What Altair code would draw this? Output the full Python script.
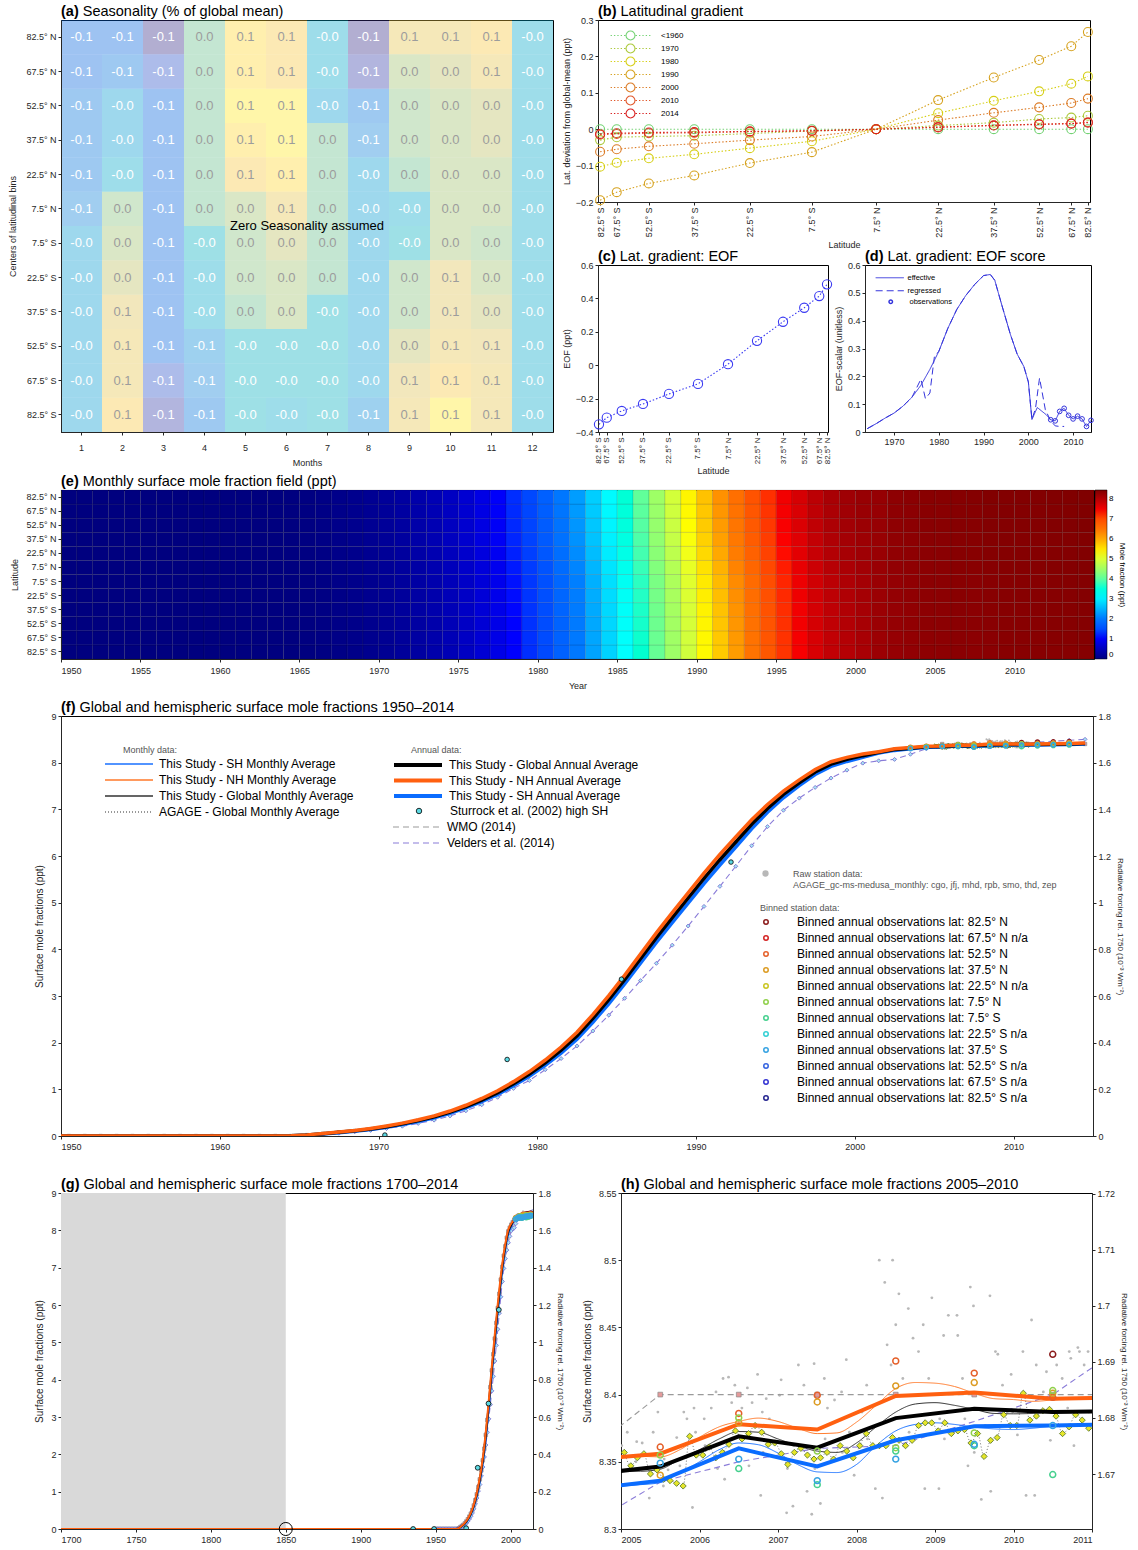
import math
import altair as alt
import pandas as pd

FONT = "Liberation Sans"
INK = "#262626"
TFS = 14.5  # panel title font size

# ---------------- shared latitude bins ----------------
lat_rows = ["82.5° N", "67.5° N", "52.5° N", "37.5° N", "22.5° N", "7.5° N",
            "7.5° S", "22.5° S", "37.5° S", "52.5° S", "67.5° S", "82.5° S"]
lat_deg = [-82.5, -67.5, -52.5, -37.5, -22.5, -7.5, 7.5, 22.5, 37.5, 52.5, 67.5, 82.5]
lat_labels_sn = ["82.5° S", "67.5° S", "52.5° S", "37.5° S", "22.5° S", "7.5° S",
                 "7.5° N", "22.5° N", "37.5° N", "52.5° N", "67.5° N", "82.5° N"]

# ---------------- (a) seasonality (rows N -> S, months 1..12) ----------------
months = list(range(1, 13))
seasonality = [
    [-0.08, -0.08, -0.11, 0.01, 0.08, 0.07, -0.03, -0.11, 0.06, 0.06, 0.07, -0.03],
    [-0.08, -0.07, -0.09, 0.01, 0.08, 0.07, -0.03, -0.10, 0.03, 0.04, 0.06, -0.03],
    [-0.07, -0.04, -0.08, 0.01, 0.09, 0.09, -0.04, -0.07, 0.02, 0.03, 0.04, -0.03],
    [-0.07, -0.04, -0.08, 0.01, 0.08, 0.09, 0.01, -0.06, 0.02, 0.03, 0.04, -0.03],
    [-0.07, -0.03, -0.08, 0.01, 0.07, 0.08, 0.01, -0.04, 0.01, 0.03, 0.03, -0.03],
    [-0.06, 0.02, -0.08, 0.01, 0.03, 0.06, 0.01, -0.04, -0.03, 0.03, 0.03, -0.03],
    [-0.04, 0.03, -0.08, -0.02, 0.02, 0.04, 0.01, -0.04, -0.02, 0.03, 0.02, -0.03],
    [-0.04, 0.04, -0.08, -0.03, 0.02, 0.03, 0.01, -0.04, 0.02, 0.055, 0.03, -0.03],
    [-0.04, 0.055, -0.08, -0.03, 0.01, 0.03, -0.02, -0.04, 0.02, 0.055, 0.04, -0.03],
    [-0.04, 0.06, -0.08, -0.055, -0.02, -0.02, -0.02, -0.04, 0.04, 0.06, 0.055, -0.03],
    [-0.04, 0.06, -0.09, -0.06, -0.02, -0.02, -0.02, -0.04, 0.055, 0.07, 0.06, -0.03],
    [-0.04, 0.07, -0.10, -0.07, -0.02, -0.03, -0.02, -0.055, 0.06, 0.09, 0.06, -0.03],
]
parula = ["#352a87", "#0f5cdd", "#1481d6", "#06a4ca", "#2eb7a4",
          "#87bf77", "#d1bb59", "#fec832", "#f9fb0e"]

# ---------------- (b) latitudinal gradient ----------------
grad_labels = ["<1960", "1970", "1980", "1990", "2000", "2010", "2014"]
grad_colors = ["#74d274", "#acc93c", "#d6cf16", "#d6a21f", "#dc7c27", "#e1572b", "#d81f1f"]
grad_vals = [
    [0.0, 0.0, 0.0, 0.0, 0.0, 0.0, 0.0, 0.0, 0.0, 0.0, 0.0, 0.0],
    [-0.030, -0.022, -0.020, -0.018, -0.012, -0.005, 0.0, 0.010, 0.018, 0.028, 0.032, 0.037],
    [-0.103, -0.092, -0.080, -0.069, -0.052, -0.033, 0.0, 0.044, 0.078, 0.104, 0.125, 0.145],
    [-0.195, -0.173, -0.149, -0.127, -0.093, -0.063, 0.0, 0.080, 0.142, 0.190, 0.228, 0.267],
    [-0.062, -0.055, -0.047, -0.040, -0.030, -0.020, 0.0, 0.025, 0.045, 0.060, 0.072, 0.084],
    [-0.015, -0.013, -0.011, -0.010, -0.007, -0.005, 0.0, 0.006, 0.011, 0.014, 0.016, 0.019],
    [-0.013, -0.011, -0.009, -0.008, -0.006, -0.004, 0.0, 0.005, 0.010, 0.013, 0.015, 0.018],
]

# ---------------- (c) EOF ----------------
eof = [-0.354, -0.314, -0.274, -0.232, -0.172, -0.112, 0.006, 0.146, 0.260, 0.344, 0.414, 0.484]

# ---------------- (d) EOF score ----------------
eff_years = [1964, 1966, 1968, 1970, 1972, 1974, 1976, 1978, 1980, 1982, 1984, 1986, 1988,
             1990, 1991.5, 1992.5, 1994, 1996, 1997.5, 1999, 2000, 2000.8, 2002, 2003, 2004,
             2005, 2006, 2007, 2008, 2009, 2010, 2011, 2012, 2013, 2014]
eff_vals = [0.012, 0.030, 0.050, 0.068, 0.093, 0.125, 0.168, 0.225, 0.290, 0.372, 0.440, 0.490, 0.530,
            0.562, 0.566, 0.545, 0.460, 0.350, 0.280, 0.235, 0.180, 0.045, 0.088, 0.075, 0.062,
            0.044, 0.040, 0.074, 0.085, 0.060, 0.047, 0.057, 0.047, 0.020, 0.042]
reg_years = [1964, 1966, 1968, 1970, 1972, 1974, 1976, 1977, 1978, 1979, 1980, 1982, 1984, 1986,
             1988, 1990, 1991.5, 1992.5, 1994, 1996, 1997.5, 1999, 2000, 2000.8, 2001.6, 2002.5,
             2003.8, 2005, 2006, 2007, 2008]
reg_vals = [0.012, 0.030, 0.050, 0.068, 0.093, 0.125, 0.190, 0.120, 0.140, 0.270, 0.290, 0.372,
            0.440, 0.490, 0.530, 0.562, 0.566, 0.545, 0.460, 0.350, 0.280, 0.235, 0.180, 0.045,
            0.085, 0.194, 0.080, 0.040, 0.022, 0.020, 0.020]
obs_years = [2005, 2006, 2007, 2008, 2009, 2010, 2011, 2012, 2013, 2014]
obs_vals = [0.044, 0.040, 0.074, 0.085, 0.060, 0.047, 0.057, 0.047, 0.020, 0.042]

# ---------------- annual means 1950-2014 (plotted at mid-year) ----------------
years = list(range(1950, 2015))
glob_ann = [0, 0, 0, 0, 0, 0, 0, 0, 0, 0,
            0, 0, 0, 0, 0.005, 0.02, 0.05, 0.08, 0.11, 0.15,
            0.20, 0.26, 0.33, 0.41, 0.51, 0.63, 0.77, 0.93, 1.12, 1.33,
            1.57, 1.84, 2.15, 2.52, 2.92, 3.35, 3.80, 4.25, 4.68, 5.10,
            5.52, 5.92, 6.30, 6.68, 7.02, 7.32, 7.57, 7.80, 7.97, 8.07,
            8.15, 8.22, 8.28, 8.31, 8.34, 8.3465, 8.369, 8.3605, 8.3825, 8.3895,
            8.387, 8.388, 8.393, 8.402, 8.412]
nh_ann = [0, 0, 0, 0, 0, 0, 0, 0, 0, 0,
          0, 0, 0, 0, 0.007, 0.024, 0.056, 0.088, 0.12, 0.162,
          0.214, 0.276, 0.349, 0.432, 0.535, 0.659, 0.804, 0.969, 1.165, 1.381,
          1.628, 1.906, 2.224, 2.602, 3.008, 3.443, 3.898, 4.352, 4.786, 5.21,
          5.632, 6.033, 6.41, 6.778, 7.104, 7.392, 7.632, 7.855, 8.02, 8.114,
          8.184, 8.232, 8.297, 8.324, 8.351, 8.356, 8.378, 8.374, 8.399, 8.4015,
          8.397, 8.398, 8.404, 8.413, 8.423]
sh_ann = [0, 0, 0, 0, 0, 0, 0, 0, 0, 0,
          0, 0, 0, 0, 0.003, 0.016, 0.044, 0.072, 0.10, 0.138,
          0.186, 0.244, 0.311, 0.388, 0.485, 0.601, 0.736, 0.891, 1.075, 1.279,
          1.512, 1.774, 2.076, 2.438, 2.832, 3.257, 3.702, 4.148, 4.574, 4.99,
          5.408, 5.807, 6.19, 6.582, 6.936, 7.248, 7.508, 7.745, 7.92, 8.026,
          8.116, 8.208, 8.263, 8.296, 8.329, 8.336, 8.360, 8.3465, 8.366, 8.3765,
          8.377, 8.378, 8.382, 8.391, 8.401]
velders = [0, 0, 0, 0, 0, 0, 0, 0, 0, 0,
           0, 0, 0, 0, 0, 0.02, 0.04, 0.06, 0.09, 0.12,
           0.16, 0.21, 0.27, 0.34, 0.43, 0.54, 0.67, 0.83, 1.02, 1.19,
           1.42, 1.66, 1.93, 2.25, 2.59, 2.95, 3.33, 3.70, 4.09, 4.50,
           4.92, 5.35, 5.78, 6.22, 6.63, 6.98, 7.24, 7.47, 7.67, 7.84,
           7.99, 8.04, 8.07, 8.18, 8.30, 8.335, 8.350, 8.360, 8.362, 8.380,
           8.400, 8.44, 8.46, 8.48, 8.50]
wmo = [0, 0, 0, 0, 0, 0, 0, 0, 0, 0,
       0, 0, 0, 0, 0, 0.02, 0.05, 0.08, 0.11, 0.15,
       0.20, 0.26, 0.33, 0.41, 0.51, 0.63, 0.77, 0.93, 1.12, 1.33,
       1.57, 1.84, 2.15, 2.52, 2.92, 3.35, 3.80, 4.25, 4.68, 5.10,
       5.52, 5.92, 6.30, 6.68, 7.02, 7.32, 7.57, 7.80, 7.97, 8.07,
       8.15, 8.22, 8.28, 8.31, 8.354, 8.40, 8.40, 8.40, 8.40, 8.40,
       8.40, 8.40, 8.40, 8.40, 8.40]
early_year = 1700  # all series are zero before industrial production

# ---------------- monthly means (quarterly readings) 2005-2011 ----------------
q_x = [2005.0, 2005.25, 2005.5, 2005.75, 2006.0, 2006.25, 2006.5, 2006.75, 2007.0, 2007.25,
       2007.5, 2007.75, 2008.0, 2008.25, 2008.5, 2008.75, 2009.0, 2009.25, 2009.5, 2009.75,
       2010.0, 2010.25, 2010.5, 2010.75, 2011.0]
nh_q = [8.354, 8.354, 8.3537, 8.359, 8.3683, 8.376, 8.380, 8.3825, 8.380, 8.375,
        8.371, 8.3715, 8.3795, 8.392, 8.4045, 8.409, 8.4085, 8.406, 8.401, 8.397,
        8.3963, 8.395, 8.396, 8.397, 8.397]
gl_q = [8.343, 8.343, 8.3445, 8.352, 8.359, 8.367, 8.3725, 8.372, 8.367, 8.362,
        8.358, 8.357, 8.364, 8.376, 8.387, 8.393, 8.394, 8.392, 8.389, 8.386,
        8.3857, 8.386, 8.387, 8.387, 8.387]
sh_q = [8.332, 8.333, 8.3345, 8.342, 8.350, 8.359, 8.364, 8.3627, 8.3565, 8.348,
        8.3425, 8.342, 8.348, 8.362, 8.373, 8.3778, 8.379, 8.3778, 8.3758, 8.3745,
        8.374, 8.375, 8.3765, 8.377, 8.378]
agage = [8.357, 8.347, 8.353, 8.356, 8.341, 8.344, 8.337, 8.336, 8.334, 8.332, 8.369, 8.355,
         8.355, 8.361, 8.353, 8.357, 8.363, 8.373, 8.367, 8.371, 8.377, 8.372, 8.363, 8.364,
         8.356, 8.348, 8.357, 8.360, 8.355, 8.352, 8.353, 8.357, 8.352, 8.362, 8.358, 8.353,
         8.362, 8.371, 8.362, 8.362, 8.362, 8.368, 8.366, 8.362, 8.366, 8.377, 8.379, 8.379,
         8.373, 8.379, 8.371, 8.373, 8.374, 8.364, 8.371, 8.354, 8.366, 8.368, 8.385, 8.377,
         8.377, 8.401, 8.381, 8.384, 8.388, 8.389, 8.384, 8.371, 8.376, 8.385, 8.381, 8.375]
agage_start = 2005

# ---------------- Sturrock et al. (2002) ----------------
sturrock_x = [1935, 1949, 1970.4, 1978.1, 1985.3, 1992.2]
sturrock_y = [0.0, 0.0, 0.02, 1.64, 3.36, 5.87]
preind_x = [1850]
preind_y = [0.0]
shade_window = [1700, 1850]

# ---------------- raw station data ----------------
raw_x = [2005.01, 2005.08, 2005.19, 2005.27, 2005.36, 2005.41, 2005.47, 2005.54, 2005.60, 2005.71,
         2005.80, 2005.84, 2005.91, 2005.95, 2005.93,
         2006.06, 2006.15, 2006.21, 2006.30, 2006.37, 2006.41, 2006.45, 2006.23, 2006.32,
         2006.54, 2006.61, 2006.67, 2006.74, 2006.80, 2006.85, 2006.78, 2006.89,
         2007.02, 2007.04, 2007.11, 2007.19, 2007.26, 2007.33, 2007.37, 2007.43, 2007.46, 2007.12,
         2007.54, 2007.59, 2007.63, 2007.72, 2007.81, 2007.87, 2007.91, 2007.97,
         2008.07, 2008.13, 2008.20, 2008.29, 2008.36, 2008.39, 2008.46, 2008.44, 2008.50, 2008.54,
         2008.24, 2008.33,
         2008.59, 2008.66, 2008.72, 2008.79, 2008.81, 2008.85, 2008.92, 2008.96, 2008.87,
         2009.05, 2009.11, 2009.17, 2009.28, 2009.29, 2009.35, 2009.42, 2009.45, 2009.49, 2009.50,
         2009.59, 2009.70, 2009.71, 2009.77, 2009.80, 2009.86, 2009.92, 2009.97,
         2010.05, 2010.12, 2010.16, 2010.23, 2010.27, 2010.29, 2010.38, 2010.42, 2010.47,
         2010.55, 2010.62, 2010.71, 2010.73, 2010.82, 2010.84, 2010.90, 2010.95, 2010.77,
         2005.20, 2005.55, 2005.75, 2006.07, 2006.40, 2006.81, 2007.20, 2007.60, 2007.82, 2008.14,
         2008.67, 2009.06, 2009.38, 2009.64, 2009.99, 2010.34, 2010.69, 2010.96, 2009.12, 2008.60,
         2007.47, 2006.63]
raw_y = [8.362, 8.372, 8.350, 8.364, 8.323, 8.372, 8.387, 8.332, 8.344, 8.368,
         8.387, 8.382, 8.316, 8.372, 8.390,
         8.382, 8.390, 8.402, 8.412, 8.413, 8.394, 8.407, 8.345, 8.337,
         8.390, 8.405, 8.394, 8.415, 8.387, 8.397, 8.325, 8.382,
         8.3995, 8.411, 8.312, 8.317, 8.422, 8.407, 8.328, 8.311, 8.423, 8.345,
         8.319, 8.412, 8.390, 8.396, 8.402, 8.426, 8.372, 8.340,
         8.387, 8.407, 8.375, 8.500, 8.4835, 8.437, 8.500, 8.422, 8.452, 8.475,
         8.330, 8.323,
         8.412, 8.464, 8.442, 8.432, 8.400, 8.452, 8.412, 8.472, 8.330,
         8.330, 8.444, 8.459, 8.459, 8.444, 8.412, 8.347, 8.480, 8.466, 8.357,
         8.322, 8.4735, 8.328, 8.432, 8.430, 8.407, 8.387, 8.415,
         8.370, 8.432, 8.325, 8.4555, 8.325, 8.422, 8.402, 8.417, 8.366,
         8.422, 8.412, 8.432, 8.427, 8.435, 8.432, 8.422, 8.432, 8.362,
         8.365, 8.352, 8.347, 8.362, 8.367, 8.357, 8.362, 8.367, 8.357, 8.367,
         8.372, 8.382, 8.382, 8.377, 8.387, 8.387, 8.390, 8.387, 8.367, 8.362,
         8.345, 8.347]

# ---------------- binned annual observations ----------------
bin_years = [2003.5, 2004.5, 2005.5, 2006.5, 2007.5, 2008.5, 2009.5, 2010.5, 2011.5, 2012.5, 2013.5]
bin_obs = {
    "82.5° N": [None, None, None, None, None, None, None, 8.430, 8.440, 8.445, 8.450],
    "52.5° N": [8.33, 8.35, 8.361, 8.386, 8.3995, 8.425, 8.416, 8.398, 8.41, 8.42, 8.43],
    "37.5° N": [8.32, 8.345, 8.340, 8.379, 8.3945, 8.4065, 8.409, 8.401, 8.405, 8.415, 8.425],
    "7.5° N": [8.31, 8.34, 8.355, 8.3827, 8.358, 8.3605, 8.3715, 8.403, 8.39, 8.395, 8.405],
    "7.5° S": [None, None, None, 8.345, 8.333, 8.358, 8.362, 8.3405, 8.36, 8.37, 8.38],
    "37.5° S": [8.30, 8.325, 8.349, 8.352, 8.336, 8.352, 8.363, 8.377, 8.38, 8.385, 8.395],
}
bin_order = ["82.5° N", "67.5° N", "52.5° N", "37.5° N", "22.5° N", "7.5° N",
             "7.5° S", "22.5° S", "37.5° S", "52.5° S", "67.5° S", "82.5° S"]
bin_colors = ["#8b1a1a", "#d42222", "#e5602a", "#dc9b22", "#c9c520", "#8fd04a",
              "#45d08e", "#32d0d4", "#35a2e2", "#3462e0", "#3434d2", "#23238f"]

jet = ["#00007f", "#0000ff", "#007fff", "#00ffff", "#7fff7f", "#ffff00", "#ff7f00", "#ff0000", "#7f0000"]

LINE_SYM = "M-4.8,0H4.8"    # 48 px long horizontal legend stroke at symbolSize 100
LINE_SYM_D = "M-4.7,0H4.7"  # 28 px long at symbolSize 36
# legend glyph for panel (b): open circle with a dotted line through it
_dots = []
_p = 1.15
while _p + 0.3 <= 4.5:
    _dots.append(f"M{_p:.2f},0H{_p + 0.3:.2f}M{-_p:.2f},0H{-_p - 0.3:.2f}")
    _p += 0.75
CIRCLE_DOTLINE = "M-1,0A1,1,0,1,1,1,0A1,1,0,1,1,-1,0Z" + "".join(_dots)

# bold glyph advance widths (per 1000 em) of the Arial-metric font, for placing the panel titles
BOLD_W = {"(": 333, ")": 333, "a": 556, "b": 611, "c": 556, "d": 611, "e": 556, "f": 333, "g": 611, "h": 611}


def title_layers(tag, rest):
    w = sum(BOLD_W[ch] for ch in tag) / 1000.0 * TFS + 0.278 * TFS
    t1 = alt.Chart(pd.DataFrame({"t": [tag]})).mark_text(
        font=FONT, fontSize=TFS, fontWeight="bold", align="left", baseline="alphabetic", color="black"
    ).encode(text="t:N", x=alt.value(0), y=alt.value(-4))
    t2 = alt.Chart(pd.DataFrame({"t": [rest]})).mark_text(
        font=FONT, fontSize=TFS, fontWeight="normal", align="left", baseline="alphabetic", color="black"
    ).encode(text="t:N", x=alt.value(w), y=alt.value(-4))
    return [t1, t2]


# ======================= panel (a) =======================
seas_df = pd.DataFrame([
    {"lat": lat_rows[i], "month": months[j], "v": seasonality[i][j], "lbl": f"{seasonality[i][j]:.1f}"}
    for i in range(12) for j in range(12)
])
xa = alt.X("month:O", scale=alt.Scale(paddingInner=0, paddingOuter=0),
           axis=alt.Axis(title="Months", labelAngle=0, labelPadding=8, titlePadding=6))
ya = alt.Y("lat:O", sort=lat_rows, scale=alt.Scale(paddingInner=0, paddingOuter=0),
           axis=alt.Axis(title="Centers of latitudinal bins", titlePadding=8))
cells = alt.Chart(seas_df).mark_rect(opacity=0.38).encode(
    x=xa, y=ya, color=alt.Color("v:Q", scale=alt.Scale(domain=[-0.11, 0.10], range=parula), legend=None))
cell_txt = alt.Chart(seas_df).mark_text(fontSize=13, font=FONT).encode(
    x=xa, y=ya, text="lbl:N",
    color=alt.condition(alt.datum.v < 0, alt.value("white"), alt.value("#9c9c9c")))
zero_note = alt.Chart(pd.DataFrame({"t": ["Zero Seasonality assumed"]})).mark_text(
    fontSize=13, font=FONT, color="black").encode(text="t:N", x=alt.value(246), y=alt.value(206))
panel_a = alt.layer(cells, cell_txt, zero_note, *title_layers("(a)", "Seasonality (% of global mean)")).properties(
    width=492, height=412)

# ======================= panels (b), (c) =======================
sin_ticks = [math.sin(math.radians(l)) for l in lat_deg]
lat_expr = "format(abs(asin(datum.value))*180/PI, '.1f') + (datum.value < 0 ? '° S' : '° N')"


def lat_x(fs=9):
    return alt.X("s:Q", scale=alt.Scale(domain=[-1, 1], nice=False, zero=False),
                 axis=alt.Axis(values=sin_ticks, labelExpr=lat_expr, labelAngle=270, title="Latitude",
                               labelFontSize=fs, titleFontSize=9, titlePadding=3, labelPadding=2,
                               labelOverlap=False))


grad_df = pd.DataFrame([{"yr": grad_labels[k], "lat": lat_deg[i], "dev": grad_vals[k][i]}
                        for k in range(len(grad_labels)) for i in range(12)])
yb = alt.Y("dev:Q", scale=alt.Scale(domain=[-0.2, 0.3], nice=False, zero=False),
           axis=alt.Axis(values=[-0.2, -0.1, 0, 0.1, 0.2, 0.3], format=".1~f",
                         title="Lat. deviation from global-mean (ppt)", titleFontSize=9, titlePadding=4))
b_leg = alt.Legend(orient="none", legendX=27, legendY=10, title=None, symbolType=CIRCLE_DOTLINE,
                   symbolSize=80, labelFontSize=8, rowPadding=-2.6, symbolStrokeWidth=1.1,
                   labelOffset=25, symbolFillColor="transparent")
b_base = alt.Chart(grad_df).transform_calculate(s="sin(datum.lat*PI/180)")
b_pts = b_base.mark_point(filled=False, size=80, strokeWidth=1.1, opacity=1).encode(
    x=lat_x(), y=yb,
    color=alt.Color("yr:N", scale=alt.Scale(domain=grad_labels, range=grad_colors), legend=b_leg))
b_lines = b_base.mark_line(strokeDash=[1.5, 2], strokeWidth=1.1).encode(
    x=lat_x(), y=yb,
    color=alt.Color("yr:N", scale=alt.Scale(domain=grad_labels, range=grad_colors), legend=b_leg))
panel_b = alt.layer(b_pts, b_lines, *title_layers("(b)", "Latitudinal gradient")).properties(width=492, height=182)

eof_df = pd.DataFrame({"lat": lat_deg, "eof": eof})
yc = alt.Y("eof:Q", scale=alt.Scale(domain=[-0.4, 0.6], nice=False, zero=False),
           axis=alt.Axis(values=[-0.4, -0.2, 0, 0.2, 0.4, 0.6], format=".1~f", title="EOF (ppt)",
                         titleFontSize=9, titlePadding=4))
c_base = alt.Chart(eof_df).transform_calculate(s="sin(datum.lat*PI/180)")
c_line = c_base.mark_line(strokeDash=[1.5, 2], strokeWidth=1.1, color="#3a3af2").encode(x=lat_x(8), y=yc)
c_pts = c_base.mark_point(filled=False, size=85, strokeWidth=1.1, color="#3a3af2", opacity=1).encode(x=lat_x(8), y=yc)
panel_c = alt.layer(c_line, c_pts, *title_layers("(c)", "Lat. gradient: EOF")).properties(width=230, height=167)

# ======================= panel (d) =======================
d_lines_df = pd.concat([
    pd.DataFrame({"x": eff_years, "y": eff_vals, "kind": "effective"}),
    pd.DataFrame({"x": reg_years, "y": reg_vals, "kind": "regressed"}),
])
obs_df = pd.DataFrame({"x": obs_years, "y": obs_vals, "kind": "observations"})
xd = alt.X("x:Q", scale=alt.Scale(domain=[1963.5, 2014], nice=False, zero=False),
           axis=alt.Axis(values=[1970, 1980, 1990, 2000, 2010], format="d", title=None))
yd = alt.Y("y:Q", scale=alt.Scale(domain=[0, 0.6], nice=False),
           axis=alt.Axis(values=[0, 0.1, 0.2, 0.3, 0.4, 0.5, 0.6], format=".1~f",
                         title="EOF-scalar (unitless)", titleFontSize=9, titlePadding=4))
d_leg = alt.Legend(orient="none", legendX=21, legendY=9, title=None, symbolType=LINE_SYM_D, symbolSize=36,
                   labelFontSize=7.5, rowPadding=4, labelOffset=14, symbolStrokeWidth=1)
d_lines = alt.Chart(d_lines_df).mark_line(strokeWidth=1).encode(
    x=xd, y=yd,
    color=alt.Color("kind:N", scale=alt.Scale(domain=["effective", "regressed"], range=["#3434dc", "#3434dc"]), legend=d_leg),
    strokeDash=alt.StrokeDash("kind:N", scale=alt.Scale(domain=["effective", "regressed"], range=[[1, 0], [7, 4]]), legend=d_leg))
d_obs = alt.Chart(obs_df).mark_point(filled=False, size=22, strokeWidth=1, opacity=1).encode(
    x=xd, y=yd,
    color=alt.Color("kind:N", scale=alt.Scale(domain=["observations"], range=["#3434dc"]),
                    legend=alt.Legend(orient="none", legendX=22, legendY=33, title=None, symbolType="circle",
                                      symbolSize=12, labelFontSize=7.5, labelOffset=15)))
panel_d = alt.layer(d_lines, d_obs, *title_layers("(d)", "Lat. gradient: EOF score")).resolve_scale(
    color="independent", strokeDash="independent").properties(width=226, height=167)

# ======================= panel (e) =======================
field_rows = []
for yi, yr in enumerate(years):
    for li, lab in enumerate(lat_labels_sn):
        val = glob_ann[yi] + eof[li] * (nh_ann[yi] - glob_ann[yi]) / 0.2
        field_rows.append({"x": yr, "x2": yr + 1, "lat": lab, "v": val})
field_df = pd.DataFrame(field_rows)
e_rect = alt.Chart(field_df).mark_rect(stroke="black", strokeWidth=0.4, strokeOpacity=0.3).encode(
    x=alt.X("x:Q", scale=alt.Scale(domain=[1950, 2015], nice=False, zero=False),
            axis=alt.Axis(values=list(range(1950, 2015, 5)), format="d", title="Year", titlePadding=6, labelPadding=4)),
    x2="x2:Q",
    y=alt.Y("lat:O", sort=lat_rows, scale=alt.Scale(paddingInner=0, paddingOuter=0),
            axis=alt.Axis(title="Latitude", titlePadding=6)),
    color=alt.Color("v:Q", scale=alt.Scale(domain=[0, 8.45], range=jet),
                    legend=alt.Legend(orient="right", offset=1, gradientLength=169, gradientThickness=12,
                                      title="Mole fraction (ppt)", titleOrient="right", titleFontSize=8,
                                      titleFontWeight="normal", labelFontSize=8, values=list(range(9)),
                                      gradientStrokeColor="black", gradientStrokeWidth=0.5, direction="vertical")),
)
panel_e = alt.layer(e_rect, *title_layers("(e)", "Monthly surface mole fraction field (ppt)")).properties(
    width=1033, height=169)

# ======================= time-series data tables =======================
ann_names = ["This Study - Global Annual Average", "This Study - NH Annual Average", "This Study - SH Annual Average"]
ann_colors = ["#000000", "#ff6010", "#0a6cff"]
ann_rows = []
for name, vals in [(ann_names[2], sh_ann), (ann_names[0], glob_ann), (ann_names[1], nh_ann)]:
    ann_rows.append({"x": early_year, "y": 0.0, "name": name})
    for yr, v in zip(years, vals):
        ann_rows.append({"x": yr + 0.5, "y": v, "name": name})
ann_df = pd.DataFrame(ann_rows)

mon_names = ["This Study - SH Monthly Average", "This Study - NH Monthly Average",
             "This Study - Global Monthly Average", "AGAGE - Global Monthly Average"]
mon_colors = ["#1a72ff", "#ff7a2a", "#333333", "#777777"]
mon_rows = []
for i, v in enumerate(agage):
    mon_rows.append({"x": agage_start + (i + 0.5) / 12, "y": v, "name": mon_names[3]})
for name, vals in [(mon_names[0], sh_q), (mon_names[2], gl_q), (mon_names[1], nh_q)]:
    for xx, v in zip(q_x, vals):
        mon_rows.append({"x": xx, "y": v, "name": name})
mon_df = pd.DataFrame(mon_rows)
agage_df = pd.DataFrame({"x": [agage_start + (i + 0.5) / 12 for i in range(len(agage))], "y": agage})

ref_names = ["WMO (2014)", "Velders et al. (2014)"]
ref_rows = []
for name, vals in [(ref_names[0], wmo), (ref_names[1], velders)]:
    ref_rows.append({"x": early_year, "y": 0.0, "name": name})
    for yr, v in zip(years, vals):
        ref_rows.append({"x": yr + 0.5, "y": v, "name": name})
ref_df = pd.DataFrame(ref_rows)
wmo_df = pd.DataFrame({"x": [y + 0.5 for y in years], "y": wmo})
vel_df = pd.DataFrame({"x": [y + 0.5 for y in years], "y": velders})

st_df = pd.DataFrame({"x": sturrock_x, "y": sturrock_y, "name": "Sturrock et al. (2002) high SH"})
raw_df = pd.DataFrame({"x": raw_x, "y": raw_y, "name": "Raw station data:"})

bin_names = []
for lab in bin_order:
    bin_names.append(f"Binned annual observations lat: {lab}" + ("" if lab in bin_obs else " n/a"))
bin_rows = []
for lab, vals in bin_obs.items():
    nm = f"Binned annual observations lat: {lab}"
    for xx, v in zip(bin_years, vals):
        if v is not None:
            bin_rows.append({"x": xx, "y": v, "name": nm})
bin_df = pd.DataFrame(bin_rows)

shade_df = pd.DataFrame({"x": [shade_window[0]], "x2": [shade_window[1]], "y": [0.0], "y2": [9.0]})
pre_df = pd.DataFrame({"x": preind_x, "y": preind_y})


def L(**kw):
    base = dict(orient="none", labelFontSize=12, labelFont=FONT, titleFontSize=9, titleFontWeight="normal",
                titleColor="#555555", titleFont=FONT, labelLimit=700, rowPadding=4, titlePadding=3,
                labelColor="black")
    base.update(kw)
    return alt.Legend(**base)


def ts_panel(xdom, ydom, rdom, w, h, tag, ttl, xvals, yvals, rvals, yfmt, rfmt, legends=False, thick=3.5,
             thin=1.0, mk=1.0, vel_marks=True, shade=False, preind=False):
    sx = alt.Scale(domain=xdom, nice=False, zero=False)
    sy = alt.Scale(domain=ydom, nice=False, zero=False)

    def X(f="x"):
        return alt.X(f"{f}:Q", scale=sx, axis=alt.Axis(values=xvals, format="d", title=None, labelPadding=3))

    def Y(f="y"):
        return alt.Y(f"{f}:Q", scale=sy, axis=alt.Axis(values=yvals, format=yfmt, title="Surface mole fractions (ppt)",
                                                       titleFontSize=10, titlePadding=6))

    layers = []
    if shade:
        layers.append(alt.Chart(shade_df).mark_rect(color="#d9d9d9", clip=True).encode(
            x=X(), x2="x2:Q", y=Y(), y2="y2:Q"))
    layers.append(alt.Chart(raw_df).mark_circle(size=5 * mk, opacity=1, clip=True).encode(
        x=X(), y=Y(),
        color=alt.Color("name:N", scale=alt.Scale(domain=["Raw station data:"], range=["#b8b8b8"]),
                        legend=L(title=None, legendX=700, legendY=153, symbolSize=40, labelFontSize=9,
                                 labelColor="#555555", labelOffset=23,
                                 labelExpr="[datum.label, 'AGAGE_gc-ms-medusa_monthly: cgo, jfj, mhd, rpb, smo, thd, zep']")
                        if legends else None)))
    layers.append(alt.Chart(ref_df).mark_line(strokeWidth=1.1, strokeDash=[6, 4], clip=True).encode(
        x=X(), y=Y(),
        color=alt.Color("name:N", scale=alt.Scale(domain=ref_names, range=["#9a9a9a", "#8a7cd8"]),
                        legend=L(title=None, legendX=350, legendY=105, symbolType=LINE_SYM, symbolSize=100,
                                 labelOffset=24, symbolStrokeWidth=1.2, symbolDash=[6, 4]) if legends else None)))
    layers.append(alt.Chart(wmo_df).mark_point(shape="square", filled=True, size=14 * mk, fill="#e59a9a",
                                               stroke="#8a8a8a", strokeWidth=0.7, opacity=1, clip=True).encode(x=X(), y=Y()))
    if vel_marks:
        layers.append(alt.Chart(vel_df).mark_point(shape="diamond", filled=True, size=20 * mk, fill="#a6e4f2",
                                                   stroke="#7468d0", strokeWidth=0.8, opacity=1, clip=True).encode(x=X(), y=Y()))
    mon_leg = L(title="Monthly data:", legendX=62, legendY=30, symbolType=LINE_SYM, symbolSize=100,
                labelOffset=24, symbolStrokeWidth=1.5) if legends else None
    layers.append(alt.Chart(mon_df).mark_line(strokeWidth=thin, interpolate="monotone", clip=True).encode(
        x=X(), y=Y(),
        color=alt.Color("name:N", scale=alt.Scale(domain=mon_names, range=mon_colors), legend=mon_leg),
        strokeDash=alt.StrokeDash("name:N", scale=alt.Scale(domain=mon_names, range=[[1, 0], [1, 0], [1, 0], [1, 2]]),
                                  legend=mon_leg)))
    layers.append(alt.Chart(agage_df).mark_point(shape="diamond", filled=True, size=24 * mk, fill="#e6e62a",
                                                 stroke="#4f6e24", strokeWidth=0.8, opacity=1, clip=True).encode(x=X(), y=Y()))
    layers.append(alt.Chart(ann_df).mark_line(strokeWidth=thick, clip=True).encode(
        x=X(), y=Y(),
        color=alt.Color("name:N", scale=alt.Scale(domain=ann_names, range=ann_colors),
                        legend=L(title="Annual data:", legendX=350, legendY=30, symbolType=LINE_SYM,
                                 symbolSize=100, labelOffset=24, rowPadding=-0.5, symbolStrokeWidth=4) if legends else None)))
    layers.append(alt.Chart(st_df).mark_point(shape="circle", filled=True, size=26 * mk, stroke="black",
                                              strokeWidth=0.8, opacity=1, clip=True).encode(
        x=X(), y=Y(),
        color=alt.Color("name:N", scale=alt.Scale(domain=["Sturrock et al. (2002) high SH"], range=["#5cd9e3"]),
                        legend=L(title=None, legendX=352, legendY=89, symbolType="circle", symbolSize=30,
                                 labelOffset=25, symbolStrokeColor="black", symbolStrokeWidth=0.8) if legends else None)))
    layers.append(alt.Chart(bin_df).mark_point(shape="circle", filled=False, size=22 * mk, strokeWidth=1.5,
                                               opacity=1, clip=True).encode(
        x=X(), y=Y(),
        color=alt.Color("name:N", scale=alt.Scale(domain=bin_names, range=bin_colors),
                        legend=L(title="Binned station data:", legendX=699, legendY=188, symbolType="circle",
                                 symbolSize=20, labelOffset=25, symbolStrokeWidth=1.5) if legends else None)))
    if preind:
        layers.append(alt.Chart(pre_df).mark_point(shape="circle", filled=False, size=170, color="black",
                                                   strokeWidth=1, opacity=1).encode(x=X(), y=Y()))
    layers.extend(title_layers(tag, ttl))
    inner = alt.layer(*layers).resolve_scale(color="independent", strokeDash="independent")
    r_df = pd.DataFrame({"x": [xdom[0], xdom[1]], "r": rdom})
    right = alt.Chart(r_df).mark_point(opacity=0).encode(
        x=X(),
        y=alt.Y("r:Q", scale=alt.Scale(domain=rdom, nice=False, zero=False),
                axis=alt.Axis(orient="right", values=rvals, format=rfmt,
                              title="Radiative forcing rel. 1750 (10⁻³ Wm⁻²)", titleFontSize=8, titlePadding=5)))
    return alt.layer(inner, right).resolve_scale(y="independent").properties(width=w, height=h)


rf_ticks = [0, 0.2, 0.4, 0.6, 0.8, 1.0, 1.2, 1.4, 1.6, 1.8]
panel_f = ts_panel([1950, 2015], [0, 9], [0, 1.8], 1032, 420,
                   "(f)", "Global and hemispheric surface mole fractions 1950–2014",
                   list(range(1950, 2015, 10)), list(range(0, 10)), rf_ticks, "d", ".1~f",
                   legends=True, thick=3.5, thin=1.0, mk=0.8)
panel_g = ts_panel([1700, 2015], [0, 9], [0, 1.8], 472, 336,
                   "(g)", "Global and hemispheric surface mole fractions 1700–2014",
                   list(range(1700, 2001, 50)), list(range(0, 10)), rf_ticks, "d", ".1~f",
                   thick=2.0, thin=1.0, mk=0.9, shade=True, preind=True)
panel_h = ts_panel([2005, 2011], [8.3, 8.55], [1.6602, 1.7201], 471, 336,
                   "(h)", "Global and hemispheric surface mole fractions 2005–2010",
                   list(range(2005, 2012)), [8.3, 8.35, 8.4, 8.45, 8.5, 8.55],
                   [1.67, 1.68, 1.69, 1.70, 1.71, 1.72], ".2~f", ".2~f",
                   thick=4.0, thin=1.0, mk=1.6, vel_marks=False)

IND = dict(color="independent", strokeDash="independent")
row1 = alt.hconcat(panel_a,
                   alt.vconcat(panel_b, alt.hconcat(panel_c, panel_d, spacing=-2).resolve_scale(**IND),
                               spacing=-2).resolve_scale(**IND),
                   spacing=7).resolve_scale(**IND)
top = alt.vconcat(row1, panel_e, spacing=-4).resolve_scale(**IND)
bottom = alt.vconcat(panel_f, alt.hconcat(panel_g, panel_h, spacing=16).resolve_scale(**IND),
                     spacing=24).resolve_scale(**IND)
chart = alt.vconcat(top, bottom, spacing=8).resolve_scale(**IND).configure(
    font=FONT, padding={"left": 8, "top": 3, "right": 5, "bottom": 5}
).configure_view(stroke="black", strokeWidth=1).configure_axis(
    domainColor=INK, tickColor=INK, labelColor=INK, titleColor=INK, labelFontSize=9, titleFontSize=9,
    titleFontWeight="normal", grid=False, tickSize=3, labelFont=FONT, titleFont=FONT
).configure_legend(labelFont=FONT, titleFont=FONT)

chart.save("out.html", embed_options={"renderer": "svg", "actions": False})
